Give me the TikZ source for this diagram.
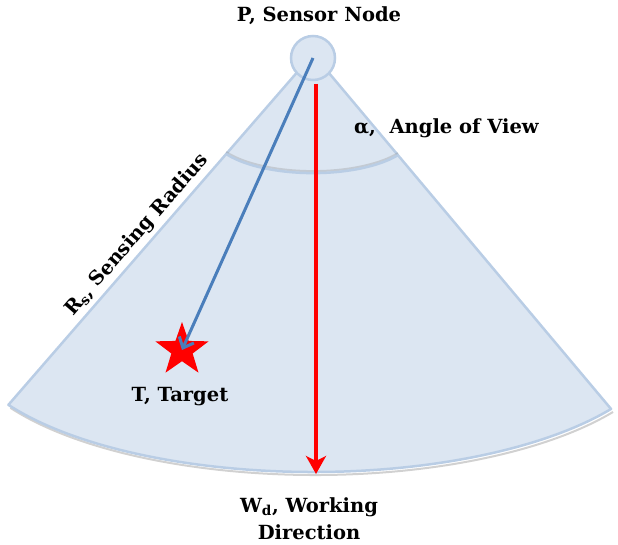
\documentclass[tikz,border=0pt]{standalone}
\usepackage{fontspec}
\setmainfont{DejaVu Serif}
\usetikzlibrary{shapes.geometric,arrows.meta,calc}
\definecolor{conefill}{RGB}{220,230,242}
\definecolor{coneedge}{RGB}{185,205,229}
\definecolor{arrowblue}{RGB}{74,126,187}
\begin{document}
\begin{tikzpicture}[x=1pt,y=-1pt,
  lbl/.style={font=\fontsize{19.5}{23}\selectfont\bfseries, inner sep=0pt},
  cone/.style={fill=conefill, draw=coneedge, line width=2.5pt, line join=round},
  edgeline/.style={draw=coneedge, line width=2.5pt},
  shadowline/.style={draw=black!45, line width=2pt, opacity=0.4}]
\useasboundingbox (0,0) rectangle (618,545);
\coordinate (A) at (313,54);
\coordinate (C) at (313,334);
\coordinate (Ci) at (313,133.8);
\coordinate (L) at ($(C)+(149.1:355 and 138)$);
\coordinate (R) at ($(C)+(32.9:355 and 138)$);
\coordinate (Li) at ($(Ci)+(149.1:101.2 and 39.3)$);
% shadow of the bottom
\draw[shadowline] ($(L)+(2,3)$) arc[start angle=149.1,end angle=32.9,x radius=355,y radius=138];
% the cone
\draw[cone] (A) -- (L) arc[start angle=149.1,end angle=32.9,x radius=355,y radius=138] -- cycle;
% angle of view arc
\draw[shadowline, opacity=0.3] ($(Li)+(0,-2)$) arc[start angle=149.1,end angle=32.9,x radius=101.2,y radius=39.3];
\draw[edgeline] (Li) arc[start angle=149.1,end angle=32.9,x radius=101.2,y radius=39.3];
% sensor node
\node[circle, minimum size=44pt, inner sep=0pt, fill=conefill, draw=coneedge, line width=2.5pt] (sensor) at (313,58) {};
% target
\node[star, star points=5, star point ratio=2.5, minimum size=56pt, inner sep=0pt, fill=red] (T) at (182,350) {};
% working direction
\coordinate (W0) at (316,84);
\coordinate (W1) at (316,474);
\draw[red, line width=3.5pt, -{Stealth[length=18pt,width=20pt,inset=5pt]}] (W0) -- (W1);
% sensor to target
\draw[arrowblue, line width=3pt, -{Straight Barb[length=9pt,width=16pt]}] (sensor.center) -- (T.center);
% labels
\node[lbl] (pl) at (319,16) {P, Sensor Node};
\node[lbl, anchor=west] (al) at (354,128) {α,\ \ Angle of View};
\node[lbl] (tl) at (180,397) {T, Target};
\node[lbl] (wl) at (309,507) {W\textsubscript{d}, Working};
\node[lbl] (wl2) at (309,532) {Direction};
\node[lbl, rotate=49] (rl) at (137,235) {R\textsubscript{s}, Sensing Radius};
\end{tikzpicture}
\end{document}
